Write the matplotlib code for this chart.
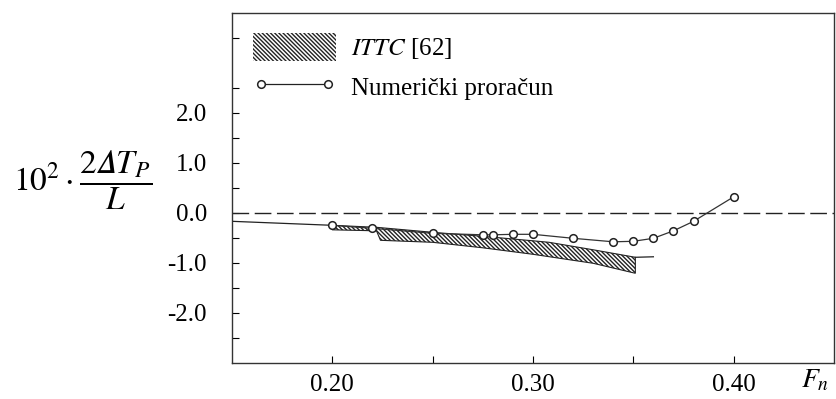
import numpy as np
import matplotlib
matplotlib.use('Agg')
import matplotlib.pyplot as plt
from matplotlib.patches import Patch
from matplotlib.lines import Line2D

plt.rcParams['font.family'] = ['Liberation Serif', 'DejaVu Serif']
plt.rcParams['mathtext.fontset'] = 'stix'
plt.rcParams['hatch.linewidth'] = 1.0

# numericki proracun
fn_num = [0.20, 0.22, 0.25, 0.275, 0.28, 0.29, 0.30, 0.32, 0.34, 0.35, 0.36, 0.37, 0.38, 0.40]
dt_num = [-0.25, -0.31, -0.41, -0.44, -0.44, -0.43, -0.43, -0.51, -0.58, -0.57, -0.51, -0.36, -0.17, 0.32]

# ITTC [62] pojas
ittc_up_x = [0.20, 0.222, 0.25, 0.275, 0.30, 0.308, 0.33, 0.351]
ittc_up_y = [-0.25, -0.29, -0.39, -0.47, -0.56, -0.59, -0.74, -0.89]
ittc_lo_x = [0.20, 0.222, 0.224, 0.25, 0.275, 0.30, 0.33, 0.351]
ittc_lo_y = [-0.34, -0.36, -0.55, -0.59, -0.70, -0.83, -1.01, -1.21]

# produzetak ITTC linije
ext_left_x = [0.15, 0.20]
ext_left_y = [-0.17, -0.25]
ext_right_x = [0.351, 0.36]
ext_right_y = [-0.89, -0.88]

y_major = [-2.0, -1.0, 0.0, 1.0, 2.0]
y_labels = ['-2.0', '-1.0', '0.0', '1.0', '2.0']
x_major = [0.20, 0.30, 0.40]
x_labels = ['0.20', '0.30', '0.40']

fig = plt.figure(figsize=(8.37, 3.99), dpi=100)
ax = fig.add_axes([0.2772, 0.091, 0.7192, 0.8764])

ax.axhline(0.0, color='#222222', lw=1.0, dashes=(12, 4))

poly_x = np.concatenate([ittc_up_x, ittc_lo_x[::-1]])
poly_y = np.concatenate([ittc_up_y, ittc_lo_y[::-1]])
ax.fill(poly_x, poly_y, facecolor='white', edgecolor='#222222', hatch='\\' * 8, lw=0.8)

ax.plot(ext_left_x, ext_left_y, color='#222222', lw=0.9)
ax.plot(ext_right_x, ext_right_y, color='#222222', lw=0.9)

ax.plot(fn_num, dt_num, color='#333333', lw=0.9, marker='o', ms=5.5,
        mfc='white', mec='#222222', mew=1.1)

ax.set_xlim(0.15, 0.45)
ax.set_ylim(-3.0, 4.0)
ax.set_xticks(x_major)
ax.set_xticklabels(x_labels)
ax.set_xticks([0.25, 0.35], minor=True)
ax.set_yticks(y_major)
ax.set_yticklabels(y_labels)
ax.set_yticks(np.arange(-2.5, 4.0, 1.0), minor=True)
ax.tick_params(which='both', direction='in', length=5, width=0.8, labelsize=18,
               top=False, right=False)
ax.tick_params(axis='y', pad=18)
ax.tick_params(axis='x', pad=8)
for s in ax.spines.values():
    s.set_linewidth(1.0)
    s.set_color('#333333')

handles = [
    Patch(facecolor='white', edgecolor='#222222', lw=0, hatch='\\' * 8),
    Line2D([0], [0], color='#222222', lw=0.9, marker='o', ms=5.5,
           mfc='white', mec='#222222', mew=1.1),
]
labels = [r'$\mathit{ITTC}$ [62]', 'Numerički proračun']
ax.legend(handles, labels, loc='upper left', frameon=False, fontsize=18,
          numpoints=2, handlelength=3.3, handleheight=1.3, handletextpad=0.6,
          labelspacing=0.45, borderaxespad=0.2, bbox_to_anchor=(0.01, 0.985))

fig.text(0.099, 0.55, '$10^2\\cdot\\dfrac{2\U0001D6E5T_P}{L}$', fontsize=24,
         ha='center', va='center')
fig.text(0.957, 0.045, r'$F_n$', fontsize=20, ha='left', va='center')

fig.savefig('out.png', dpi=100)
